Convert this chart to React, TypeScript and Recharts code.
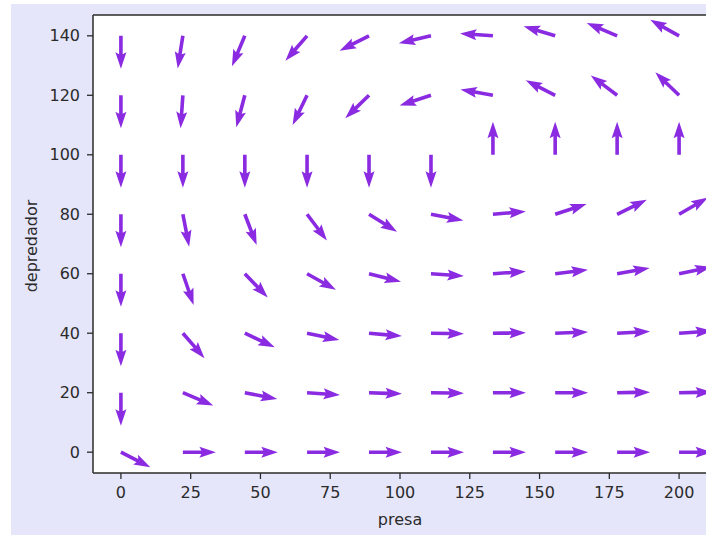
import { CartesianGrid, ReferenceLine, Scatter, ScatterChart, XAxis, YAxis } from "recharts"

// grid of prey (presa) and predator (depredador) values
const presa = [0, 22.2, 44.4, 66.7, 88.9, 111.1, 133.3, 155.6, 177.8, 200]
const depredador = [0, 20, 40, 60, 80, 100, 120, 140]

// arrow direction in degrees (0 = right, 90 = up), one list per depredador level
const dir0 = [-27, 0, 0, 0, 0, 0, 0, 0, 0, 0]
const dir20 = [-90, -23, -11, -4, -2, -1, 0, 0, 1, 1]
const dir40 = [-90, -49, -25, -12, -5, -1, 1, 2, 3, 4]
const dir60 = [-90, -71, -46, -29, -14, -4, 4, 7, 10, 12]
const dir80 = [-90, -79, -69, -53, -32, -11, 5, 18, 26, 30]
const dir100 = [-90, -90, -90, -90, -90, -90, 90, 90, 90, 90]
const dir120 = [-90, -94, -105, -116, -136, -162, 170, 153, 143, 136]
const dir140 = [-90, -99, -113, -131, -153, -167, 176, 163, 157, 151]

const directions = [dir0, dir20, dir40, dir60, dir80, dir100, dir120, dir140]

const xTicks = [0, 25, 50, 75, 100, 125, 150, 175, 200]
const yTicks = [0, 20, 40, 60, 80, 100, 120, 140]

const field = depredador.flatMap((y, i) =>
  presa.map((x, j) => ({ x, y, angle: directions[i][j] }))
)

const ARROW_COLOR = "#8a2be2"
const AXIS_COLOR = "#2b2b2b"
const FONT = "DejaVu Sans, sans-serif"

// matplotlib-like quiver arrow, tail at the point
const Arrow = (props: any) => {
  const { cx, cy, payload } = props
  if (cx == null || cy == null) return null
  const L = 33
  const w = 3.6
  const hl = 16.5
  const hal = 14.5
  const hw = 11
  const pts = [
    [0, -w / 2],
    [L - hal, -w / 2],
    [L - hl, -hw / 2],
    [L, 0],
    [L - hl, hw / 2],
    [L - hal, w / 2],
    [0, w / 2],
  ]
    .map((p) => p.join(","))
    .join(" ")
  return (
    <polygon
      points={pts}
      fill={ARROW_COLOR}
      transform={`translate(${cx},${cy}) rotate(${-payload.angle})`}
    />
  )
}

const tickStyle = { fill: AXIS_COLOR, fontSize: 16, fontFamily: FONT }

export default function App() {
  return (
    <div style={{ position: "absolute", left: 0, top: 0, width: 706, height: 535, background: "#fff", overflow: "hidden" }}>
      <div style={{ position: "absolute", left: 11, top: 4, width: 720, height: 540, background: "#e6e6fa" }} />
      <div style={{ position: "absolute", left: 0, top: 0 }}>
        <ScatterChart width={720} height={535} margin={{ top: 15, right: 13, bottom: 0, left: 0 }}>
          <CartesianGrid fill="#fff" horizontal={false} vertical={false} />
          <XAxis
            type="number"
            dataKey="x"
            domain={[-10, 210]}
            ticks={xTicks}
            allowDataOverflow
            height={62}
            axisLine={{ stroke: AXIS_COLOR, strokeWidth: 1.5 }}
            tickLine={{ stroke: AXIS_COLOR, strokeWidth: 1.3 }}
            tickSize={6}
            tickMargin={8}
            tick={tickStyle}
            label={() => (
              <text x={400} y={525} textAnchor="middle" fill={AXIS_COLOR} fontSize={16} fontFamily={FONT}>
                presa
              </text>
            )}
          />
          <YAxis
            type="number"
            dataKey="y"
            domain={[-7, 147]}
            ticks={yTicks}
            allowDataOverflow
            width={93}
            axisLine={{ stroke: AXIS_COLOR, strokeWidth: 1.5 }}
            tickLine={{ stroke: AXIS_COLOR, strokeWidth: 1.3 }}
            tickSize={6}
            tickMargin={7}
            tick={tickStyle}
            label={() => (
              <text
                x={31}
                y={246}
                transform="rotate(-90, 31, 246)"
                textAnchor="middle"
                dominantBaseline="central"
                fill={AXIS_COLOR}
                fontSize={16}
                fontFamily={FONT}
              >
                depredador
              </text>
            )}
          />
          <ReferenceLine y={147} stroke={AXIS_COLOR} strokeWidth={1.5} />
          <ReferenceLine x={210} stroke={AXIS_COLOR} strokeWidth={1.5} />
          <Scatter data={field} shape={Arrow} isAnimationActive={false} />
        </ScatterChart>
      </div>
    </div>
  )
}
